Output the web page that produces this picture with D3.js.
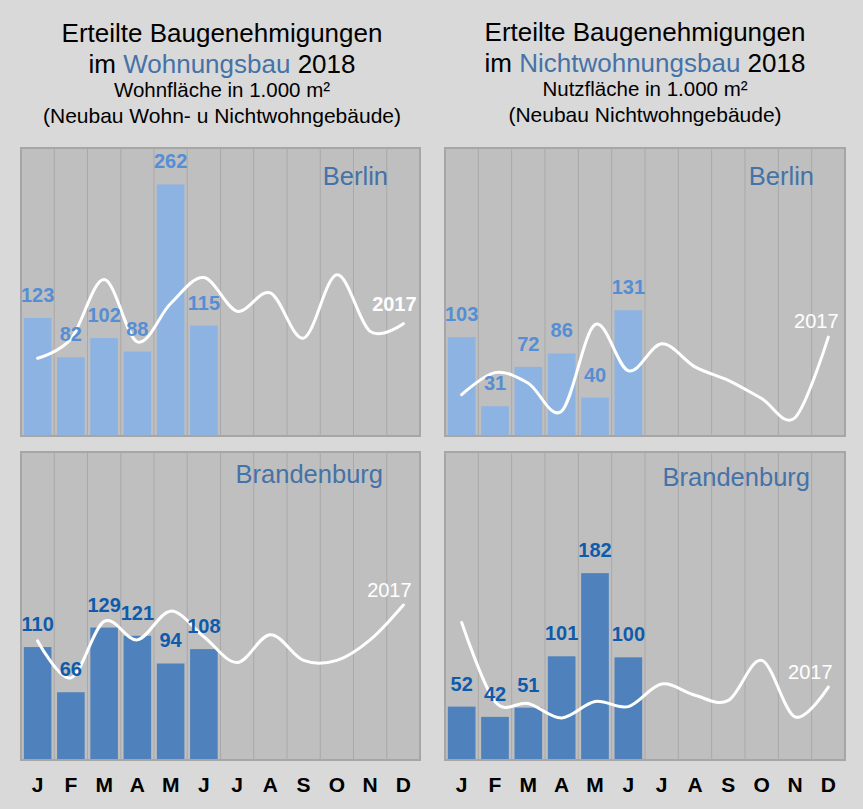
<!DOCTYPE html>
<html>
<head>
<meta charset="utf-8">
<script src="https://cdn.jsdelivr.net/npm/d3@7"></script>
<style>
  html, body { margin: 0; padding: 0; background: #d9d9d9; }
  svg { display: block; font-family: "Liberation Sans", Arial, sans-serif; }
</style>
</head>
<body>
<div id="chart"></div>
<script>
// month ticks (one band per month)
const monthLabels = ["J", "F", "M", "A", "M", "J", "J", "A", "S", "O", "N", "D"];

// Wohnungsbau, Wohnfläche in 1.000 m²
const wohnBerlin2018 = [123, 82, 102, 88, 262, 115];
const wohnBerlin2017 = [81, 101, 163, 98, 138, 165, 130, 149, 102, 168, 109, 117];
const wohnBrandenburg2018 = [110, 66, 129, 121, 94, 108];
const wohnBrandenburg2017 = [116, 80, 135, 117, 145, 120, 95, 122, 97, 97, 117, 151];

// Nichtwohnungsbau, Nutzfläche in 1.000 m²
const nichtBerlin2018 = [103, 31, 72, 86, 40, 131];
const nichtBerlin2017 = [43, 66, 55, 26, 116, 68, 96, 72, 58, 39, 19, 103];
const nichtBrandenburg2018 = [52, 42, 51, 101, 182, 100];
const nichtBrandenburg2017 = [134, 57, 55, 41, 57, 52, 74, 63, 58, 97, 42, 71];

const yMax = 300;

const width = 863, height = 809;

const svg = d3.select("#chart").append("svg")
  .attr("width", width)
  .attr("height", height);

svg.append("rect")
  .attr("width", width)
  .attr("height", height)
  .attr("fill", "#d9d9d9");

const cols = [{ x0: 21, x1: 420 }, { x0: 445, x1: 845 }];
const rows = [{ y0: 148, y1: 436 }, { y0: 452, y1: 760 }];

const titleBlue = "#4572a7";

// column headers
const headers = [
  { cx: 222, ys: [41.5, 72.5, 97, 122.5], colored: "Wohnungsbau",
    sub1: "Wohnfläche in 1.000 m²", sub2: "(Neubau Wohn- u Nichtwohngebäude)" },
  { cx: 645, ys: [41, 72, 96, 121.5], colored: "Nichtwohnungsbau",
    sub1: "Nutzfläche in 1.000 m²", sub2: "(Neubau Nichtwohngebäude)" }
];

headers.forEach(h => {
  const g = svg.append("g").attr("text-anchor", "middle").attr("fill", "#000");
  g.append("text").attr("x", h.cx).attr("y", h.ys[0])
    .attr("font-size", 26).text("Erteilte Baugenehmigungen");
  const t2 = g.append("text").attr("x", h.cx).attr("y", h.ys[1]).attr("font-size", 26);
  t2.append("tspan").text("im ");
  t2.append("tspan").attr("fill", titleBlue).text(h.colored);
  t2.append("tspan").text(" 2018");
  g.append("text").attr("x", h.cx).attr("y", h.ys[2])
    .attr("font-size", 20.5).text(h.sub1);
  g.append("text").attr("x", h.cx).attr("y", h.ys[3])
    .attr("font-size", 21).text(h.sub2);
});

const panels = [
  { col: 0, row: 0, name: "Berlin", bars: wohnBerlin2018, line: wohnBerlin2017,
    barColor: "#8db3e2", labelColor: "#558ed5", nameDx: -32, nameDy: 37,
    tag: { dx: -9, dy: -13, bold: true } },
  { col: 1, row: 0, name: "Berlin", bars: nichtBerlin2018, line: nichtBerlin2017,
    barColor: "#8db3e2", labelColor: "#558ed5", nameDx: -31, nameDy: 37,
    tag: { dx: -12, dy: -9, bold: false } },
  { col: 0, row: 1, name: "Brandenburg", bars: wohnBrandenburg2018, line: wohnBrandenburg2017,
    barColor: "#4f81bd", labelColor: "#0f5bab", nameDx: -37, nameDy: 31,
    tag: { dx: -14, dy: -8, bold: false } },
  { col: 1, row: 1, name: "Brandenburg", bars: nichtBrandenburg2018, line: nichtBrandenburg2017,
    barColor: "#4f81bd", labelColor: "#0f5bab", nameDx: -35, nameDy: 34,
    tag: { dx: -18, dy: -8, bold: false } }
];

panels.forEach(p => drawPanel(p));

function drawPanel(p) {
  const c = cols[p.col], r = rows[p.row];
  const x = d3.scaleBand()
    .domain(d3.range(12))
    .range([c.x0, c.x1])
    .paddingInner(0.17)
    .paddingOuter(0.085);
  const y = d3.scaleLinear().domain([0, yMax]).range([r.y1, r.y0]);
  const step = x.step();
  const cx = i => x(i) + x.bandwidth() / 2;

  const g = svg.append("g");

  g.append("rect")
    .attr("x", c.x0).attr("y", r.y0)
    .attr("width", c.x1 - c.x0).attr("height", r.y1 - r.y0)
    .attr("fill", "#bfbfbf");

  // vertical month separators
  g.append("g").selectAll("line")
    .data(d3.range(1, 12))
    .join("line")
    .attr("x1", i => c.x0 + i * step).attr("x2", i => c.x0 + i * step)
    .attr("y1", r.y0).attr("y2", r.y1)
    .attr("stroke", "#a9a9a9")
    .attr("stroke-width", 1);

  g.append("g").selectAll("rect")
    .data(p.bars)
    .join("rect")
    .attr("x", (d, i) => x(i))
    .attr("y", d => y(d))
    .attr("width", x.bandwidth())
    .attr("height", d => y(0) - y(d))
    .attr("fill", p.barColor);

  g.append("rect")
    .attr("x", c.x0).attr("y", r.y0)
    .attr("width", c.x1 - c.x0).attr("height", r.y1 - r.y0)
    .attr("fill", "none")
    .attr("stroke", "#a6a6a6")
    .attr("stroke-width", 2);

  const line = d3.line()
    .x((d, i) => cx(i))
    .y(d => y(d))
    .curve(d3.curveCatmullRom.alpha(0));

  g.append("path")
    .datum(p.line)
    .attr("d", line)
    .attr("fill", "none")
    .attr("stroke", "#fff")
    .attr("stroke-width", 3)
    .attr("stroke-linecap", "round");

  g.append("g").selectAll("text")
    .data(p.bars)
    .join("text")
    .attr("x", (d, i) => cx(i))
    .attr("y", d => y(d) - 16)
    .attr("text-anchor", "middle")
    .attr("font-size", 20)
    .attr("font-weight", "bold")
    .attr("fill", p.labelColor)
    .text(d => d);

  const last = p.line.length - 1;
  g.append("text")
    .attr("x", cx(last) + p.tag.dx)
    .attr("y", y(p.line[last]) + p.tag.dy)
    .attr("text-anchor", "middle")
    .attr("font-size", 20)
    .attr("font-weight", p.tag.bold ? "bold" : "normal")
    .attr("fill", "#fff")
    .text("2017");

  g.append("text")
    .attr("x", c.x1 + p.nameDx)
    .attr("y", r.y0 + p.nameDy)
    .attr("text-anchor", "end")
    .attr("font-size", 25.5)
    .attr("fill", titleBlue)
    .text(p.name);

  if (p.row === 1) {
    g.append("g").selectAll("text")
      .data(monthLabels)
      .join("text")
      .attr("x", (d, i) => cx(i))
      .attr("y", 791.5)
      .attr("text-anchor", "middle")
      .attr("font-size", 21)
      .attr("font-weight", "bold")
      .attr("fill", "#000")
      .text(d => d);
  }
}
</script>
</body>
</html>
